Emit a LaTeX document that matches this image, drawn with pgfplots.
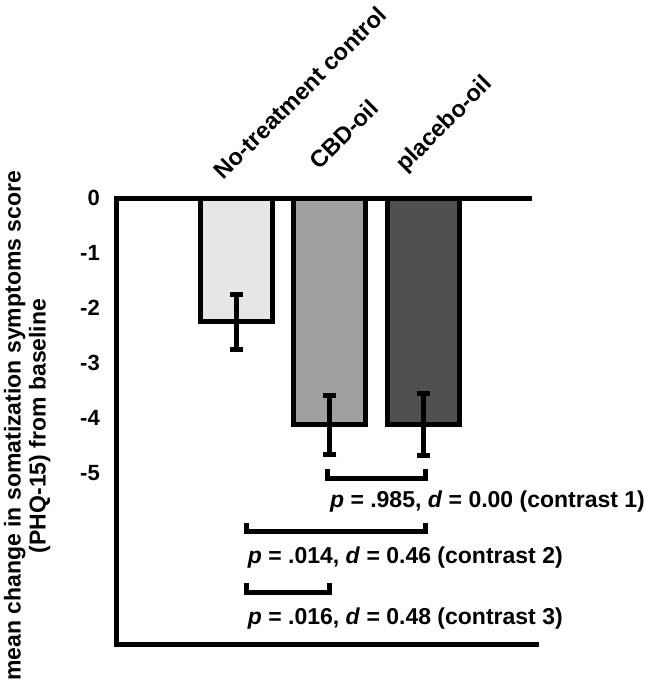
\documentclass[border=0pt]{standalone}
\usepackage{pgfplots}
\pgfplotsset{compat=1.18}
\usepackage{fontspec}
\setmainfont{Liberation Sans}

\definecolor{barA}{RGB}{230,230,230}
\definecolor{barB}{RGB}{160,160,160}
\definecolor{barC}{RGB}{80,80,80}

\newcommand{\lbl}{\fontsize{23}{25}\selectfont\bfseries}
% nudge a rotated category label along (#1) and across (#2) its baseline
\newcommand{\nudge}[3]{\hspace*{#1}\raisebox{#2}{#3}}

\pgfplotsset{barstyle/.style={ybar, bar width=0.77, bar shift=0pt, draw=black, line width=5pt,
  error bars/.cd, y dir=both, y explicit,
  error bar style={line width=5pt},
  error mark options={rotate=90, line width=5pt, mark size=6.5pt}}}

\begin{document}
\begin{tikzpicture}
\begin{axis}[
  at={(0,0)}, anchor=south west,
  scale only axis, width=422pt, height=446pt,
  xmin=-1.28, xmax=3.24, ymin=-8.1, ymax=0,
  axis line style={draw=none},
  clip=false,
  ytick={0,-1,-2,-3,-4,-5},
  yticklabels={0,-1,-2,-3,-4,-5},
  xtick={0,1,2},
  xticklabels={{\nudge{-2.8pt}{-4.2pt}{No-treatment control}},
               {\nudge{5.7pt}{1.4pt}{CBD-oil}},
               {\nudge{-0.7pt}{4.9pt}{placebo-oil}}},
  xticklabel pos=upper,
  major tick length=0pt,
  tick style={draw=none},
  yticklabel style={font=\fontsize{22}{24}\selectfont\bfseries, anchor=east, inner sep=0pt, xshift=-17pt},
  xticklabel style={font=\fontsize{23.5}{25}\selectfont\bfseries,
    xshift=-14pt, yshift=22pt, rotate=45, anchor=base west, inner sep=0pt},
  ylabel={mean change in somatization symptoms score\\(PHQ-15) from baseline},
  ylabel style={align=center, font=\lbl, at={(axis description cs:-0.213,0.489)}, anchor=center},
]
% axis frame: top line at zero, left line and bottom line
\draw[line width=5pt, line join=miter]
  (axis cs:3.17,0) -- (axis cs:-1.28,0) -- (axis cs:-1.28,-8.1) -- (axis cs:3.24,-8.1);

\addplot[fill=barA, barstyle] coordinates {(0,-2.25) +- (0,0.50)};
\addplot[fill=barB, barstyle] coordinates {(1,-4.12) +- (0,0.54)};
\addplot[fill=barC, barstyle] coordinates {(2,-4.11) +- (0,0.56)};

% contrast brackets
\draw[line width=5pt] (axis cs:0.97,-4.93) |- (axis cs:2.02,-5.10) -- (axis cs:2.02,-4.93);
\draw[line width=5pt] (axis cs:0.11,-5.90) |- (axis cs:2.02,-6.05) -- (axis cs:2.02,-5.90);
\draw[line width=5pt] (axis cs:0.11,-7.00) |- (axis cs:1.00,-7.16) -- (axis cs:1.00,-7.00);

\node[anchor=base west, inner sep=0pt, font=\lbl] at (axis cs:1.00,-5.62)
  {\textit{p} = .985, \textit{d} = 0.00 (contrast 1)};
\node[anchor=base west, inner sep=0pt, font=\lbl] at (axis cs:0.12,-6.63)
  {\textit{p} = .014, \textit{d} = 0.46 (contrast 2)};
\node[anchor=base west, inner sep=0pt, font=\lbl] at (axis cs:0.12,-7.74)
  {\textit{p} = .016, \textit{d} = 0.48 (contrast 3)};
\end{axis}
\pgfresetboundingbox
\useasboundingbox (-117pt,-45pt) rectangle (529pt,644pt);
\end{tikzpicture}
\end{document}
